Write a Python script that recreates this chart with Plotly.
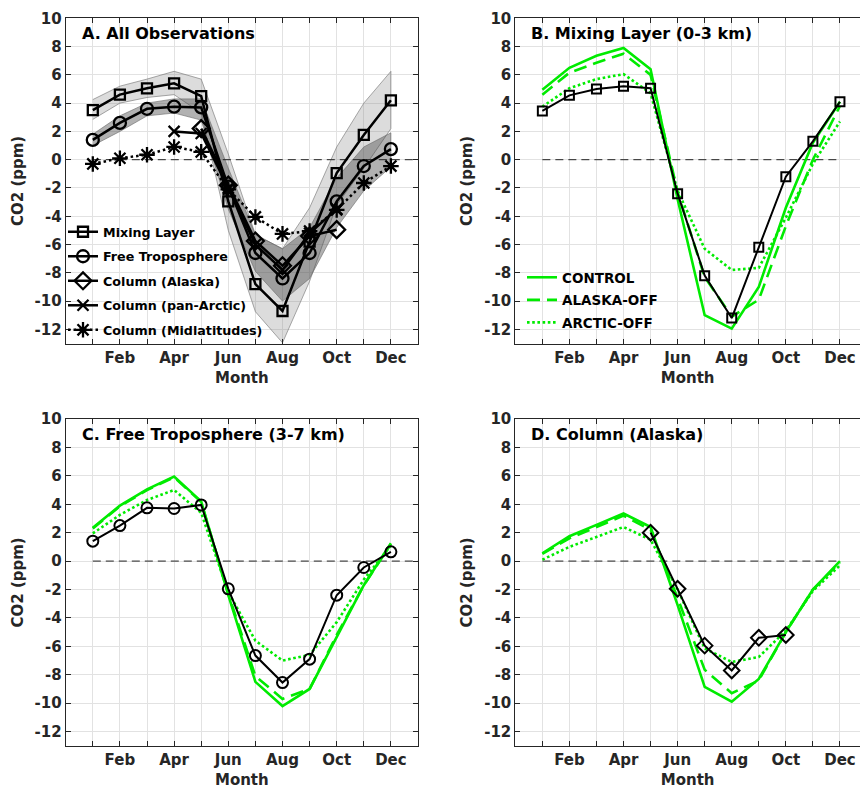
import plotly.graph_objects as go

# ---------------- data ----------------
months = [1, 2, 3, 4, 5, 6, 7, 8, 9, 10, 11, 12]
month_labels = ['', 'Feb', '', 'Apr', '', 'Jun', '', 'Aug', '', 'Oct', '', 'Dec']
y_ticks = [-12, -10, -8, -6, -4, -2, 0, 2, 4, 6, 8, 10]
y_tick_labels = ['-12', '-10', '-8', '-6', '-4', '-2', '0', '2', '4', '6', '8', '10']

# Panel A: all observations
a_mixing = [3.5, 4.6, 5.05, 5.4, 4.5, -2.95, -8.8, -10.7, -5.8, -0.95, 1.75, 4.2]
a_free = [1.4, 2.6, 3.6, 3.75, 3.7, -1.9, -6.6, -8.4, -6.6, -2.95, -0.45, 0.75]
a_col_alaska = [None, None, None, None, 2.2, -1.8, -5.75, -7.5, -5.4, -4.95, None, None]
a_col_panarctic = [None, None, None, 2.0, 1.85, -2.0, -6.0, -7.8, -5.2, -3.5, None, None]
a_col_midlat = [-0.3, 0.1, 0.35, 0.9, 0.55, -2.1, -4.05, -5.25, -5.05, -3.55, -1.65, -0.45]

a_ml_upper = [4.25, 5.2, 5.7, 6.25, 5.7, 0.4, -5.3, -6.3, -3.4, 0.9, 4.0, 6.25]
a_ml_lower = [2.85, 4.0, 4.4, 4.6, 3.3, -5.0, -10.75, -12.95, -8.6, -3.2, -0.6, 2.2]
a_ft_upper = [1.8, 3.1, 4.0, 4.3, 4.3, -0.6, -5.3, -6.3, -4.8, -1.3, 0.9, 1.9]
a_ft_lower = [1.0, 2.0, 3.1, 3.3, 2.8, -3.5, -7.9, -10.0, -8.4, -4.8, -2.2, -0.5]

# Panel B: mixing layer (0-3 km)
b_obs = [3.45, 4.55, 5.0, 5.2, 5.05, -2.4, -8.2, -11.2, -6.2, -1.2, 1.3, 4.1]
b_control = [4.95, 6.5, 7.35, 7.9, 6.4, -2.8, -11.0, -11.95, -9.0, -3.4, 1.2, 4.1]
b_alaska_off = [4.6, 6.15, 6.85, 7.5, 6.0, -2.3, -8.3, -11.1, -9.9, -4.7, 0.0, 3.8]
b_arctic_off = [3.75, 5.05, 5.7, 6.05, 4.7, -2.2, -6.3, -7.8, -7.65, -4.1, -0.3, 2.7]

# Panel C: free troposphere (3-7 km)
c_obs = [1.4, 2.5, 3.75, 3.7, 3.95, -1.95, -6.65, -8.55, -6.9, -2.4, -0.45, 0.65]
c_control = [2.35, 3.9, 5.05, 5.95, 4.2, -2.4, -8.5, -10.2, -9.0, -5.3, -1.7, 1.25]
c_alaska_off = [2.3, 3.85, 5.0, 5.9, 4.15, -2.3, -8.1, -9.7, -9.0, -5.2, -1.7, 1.2]
c_arctic_off = [1.95, 3.25, 4.3, 5.0, 3.4, -2.2, -5.6, -7.0, -6.6, -4.3, -1.3, 1.1]

# Panel D: column (Alaska)
d_obs = [None, None, None, None, 2.0, -1.95, -5.95, -7.7, -5.4, -5.2, None, None]
d_control = [0.55, 1.75, 2.55, 3.35, 2.4, -3.1, -8.85, -9.9, -8.3, -5.0, -2.0, 0.0]
d_alaska_off = [0.5, 1.6, 2.4, 3.2, 2.2, -2.6, -7.65, -9.3, -8.4, -5.0, -2.0, -0.1]
d_arctic_off = [0.1, 1.0, 1.7, 2.4, 1.5, -2.0, -6.15, -7.1, -6.75, -4.9, -2.1, -0.3]

zero_x_left = [1, 13]
zero_x_right = [1, 12]
zero_y = [0, 0]

panel_titles = ['A. All Observations', 'B. Mixing Layer (0-3 km)',
                'C. Free Troposphere (3-7 km)', 'D. Column (Alaska)']

# ---------------- style ----------------
FONT = 'DejaVu Sans'
GREEN = 'rgb(0,235,0)'
AXC = '#262626'
GRID = 'rgb(226,226,226)'

fig = go.Figure()


def band(xa, ya, upper, lower, fill, edge):
    fig.add_trace(go.Scatter(
        x=months + months[::-1], y=upper + lower[::-1], xaxis=xa, yaxis=ya,
        mode='lines', fill='toself', fillcolor=fill,
        line=dict(color=edge, width=0.8), showlegend=False, hoverinfo='skip'))


def zero(xa, ya, xs):
    fig.add_trace(go.Scatter(x=xs, y=zero_y, xaxis=xa, yaxis=ya, mode='lines',
                             line=dict(color='#222222', width=1, dash='8px,5px'),
                             showlegend=False, hoverinfo='skip'))


# Panel A
band('x', 'y', a_ml_upper, a_ml_lower, 'rgba(128,128,128,0.28)', 'rgba(120,120,120,0.8)')
band('x', 'y', a_ft_upper, a_ft_lower, 'rgba(70,70,70,0.42)', 'rgba(110,110,110,0.8)')
zero('x', 'y', zero_x_left)

series_a = [
    ('Mixing Layer', a_mixing, 'square-open', 10, 'solid'),
    ('Free Troposphere', a_free, 'circle-open', 12, 'solid'),
    ('Column (Alaska)', a_col_alaska, 'diamond-open', 13, 'solid'),
    ('Column (pan-Arctic)', a_col_panarctic, 'x-thin-open', 11, 'solid'),
    ('Column (Midlatitudes)', a_col_midlat, 'asterisk-open', 13, '2.5px,3px'),
]
for i, (name, vals, sym, size, dash) in enumerate(series_a):
    fig.add_trace(go.Scatter(
        x=months, y=vals, xaxis='x', yaxis='y', name=name, mode='lines+markers',
        line=dict(color='black', width=2.5, dash=dash),
        marker=dict(symbol=sym, size=size, color='black', line=dict(color='black', width=2.3)),
        legend='legend', legendgroup='a%d' % i, connectgaps=False))


def model_panel(xa, ya, obs, sym, size, control, akoff, aroff, zero_xs, show):
    zero(xa, ya, zero_xs)
    fig.add_trace(go.Scatter(x=months, y=control, xaxis=xa, yaxis=ya, name='CONTROL',
                             mode='lines', line=dict(color=GREEN, width=2.6),
                             legend='legend2', legendgroup='b0', showlegend=show))
    fig.add_trace(go.Scatter(x=months, y=akoff, xaxis=xa, yaxis=ya, name='ALASKA-OFF',
                             mode='lines', line=dict(color=GREEN, width=2.6, dash='13px,7px'),
                             legend='legend2', legendgroup='b1', showlegend=show))
    fig.add_trace(go.Scatter(x=months, y=aroff, xaxis=xa, yaxis=ya, name='ARCTIC-OFF',
                             mode='lines', line=dict(color=GREEN, width=2.6, dash='2.6px,2.6px'),
                             legend='legend2', legendgroup='b2', showlegend=show))
    fig.add_trace(go.Scatter(x=months, y=obs, xaxis=xa, yaxis=ya, mode='lines+markers',
                             line=dict(color='black', width=2),
                             marker=dict(symbol=sym, size=size, color='black',
                                         line=dict(color='black', width=2)),
                             showlegend=False))


model_panel('x2', 'y2', b_obs, 'square-open', 9, b_control, b_alaska_off, b_arctic_off, zero_x_right, True)
model_panel('x3', 'y3', c_obs, 'circle-open', 11, c_control, c_alaska_off, c_arctic_off, zero_x_left, False)
model_panel('x4', 'y4', d_obs, 'diamond-open', 12, d_control, d_alaska_off, d_arctic_off, zero_x_right, False)

# ---------------- layout ----------------
W, H = 860, 790
dom_x_left = [65.7 / W, 418.0 / W]
dom_x_right = [515.3 / W, 1.0]
dom_y_top = [1 - 343.5 / H, 1 - 18.3 / H]
dom_y_bot = [1 - 745.8 / H, 1 - 419.0 / H]

tickfont = dict(family=FONT, size=15, color=AXC, weight='bold')
titlefont = dict(family=FONT, size=15, color=AXC, weight='bold')


def xax(domain, anchor, rng):
    return dict(domain=domain, anchor=anchor, range=rng, tickmode='array',
                tickvals=months, ticktext=month_labels, ticks='inside', ticklen=5,
                tickcolor=AXC, showline=True, linecolor=AXC, linewidth=1, mirror='ticks',
                showgrid=True, gridcolor=GRID, gridwidth=1, zeroline=False,
                tickfont=tickfont, title=dict(text='Month', font=titlefont, standoff=6),
                automargin=False)


def yax(domain, anchor, mirror):
    return dict(domain=domain, anchor=anchor, range=[-13, 10], tickmode='array',
                tickvals=y_ticks, ticktext=y_tick_labels, ticks='inside', ticklen=5,
                tickcolor=AXC, showline=True, linecolor=AXC, linewidth=1, mirror=mirror,
                showgrid=True, gridcolor=GRID, gridwidth=1, zeroline=False,
                tickfont=tickfont, title=dict(text='CO2 (ppm)', font=titlefont, standoff=7),
                automargin=False)


right_rng = [0, 13 * (860 - 515.3) / (867.0 - 515.3)]

annotations = []
for title, xr, yr in zip(panel_titles, ['x', 'x2', 'x3', 'x4'], ['y', 'y2', 'y3', 'y4']):
    annotations.append(dict(text=title, xref=xr + ' domain', yref=yr + ' domain',
                            x=0.04, y=0.953, xanchor='left', yanchor='middle',
                            showarrow=False,
                            font=dict(family=FONT, size=16, color='black', weight='bold')))

fig.update_layout(
    width=W, height=H, margin=dict(l=0, r=0, t=0, b=0),
    paper_bgcolor='white', plot_bgcolor='white',
    xaxis=xax(dom_x_left, 'y', [0, 13]),
    yaxis=yax(dom_y_top, 'x', 'ticks'),
    xaxis2=xax(dom_x_right, 'y2', right_rng),
    yaxis2=yax(dom_y_top, 'x2', False),
    xaxis3=xax(dom_x_left, 'y3', [0, 13]),
    yaxis3=yax(dom_y_bot, 'x3', 'ticks'),
    xaxis4=xax(dom_x_right, 'y4', right_rng),
    yaxis4=yax(dom_y_bot, 'x4', False),
    annotations=annotations,
    legend=dict(x=63 / W, y=1 - 217 / H, xanchor='left', yanchor='top',
                bgcolor='rgba(0,0,0,0)', tracegroupgap=5, traceorder='grouped',
                font=dict(family=FONT, size=12.7, color='black', weight='bold')),
    legend2=dict(x=522 / W, y=1 - 262 / H, xanchor='left', yanchor='top',
                 bgcolor='rgba(0,0,0,0)', tracegroupgap=2, traceorder='grouped',
                 font=dict(family=FONT, size=13.5, color='black', weight='bold')),
    showlegend=True,
)

fig.write_html('out.html')
